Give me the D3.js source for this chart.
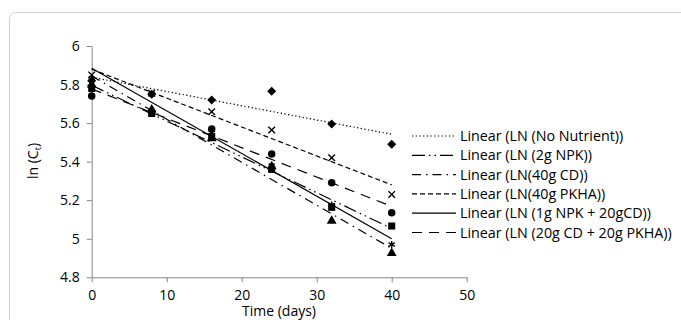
<!DOCTYPE html>
<html>
<head>
<meta charset="utf-8">
<script src="https://cdn.jsdelivr.net/npm/d3@7"></script>
<style>
body{margin:0;background:#fff}
text{font-family:"Open Sans",sans-serif;fill:#000}
</style>
</head>
<body>
<svg id="chart" width="681" height="320"></svg>
<script>
// days sampled
var days=[0,8,16,24,32,40]
// ln(C) readings per treatment
var noNutrient=[5.82,5.75,5.72,5.765,5.595,5.49]
var npk2g=[5.78,5.65,5.53,5.36,5.163,5.066]
var cd40g=[5.80,5.67,5.52,5.375,5.092,4.925]
var pkha40g=[5.85,5.755,5.659,5.564,5.42,5.23]
var npk1cd20=[5.83,5.75,5.55,5.38,5.175,4.97]
var cd20pkha20=[5.74,5.66,5.57,5.44,5.29,5.135]
var names=['Linear (LN (No Nutrient))','Linear (LN (2g NPK))','Linear (LN(40g CD))','Linear (LN(40g PKHA))','Linear (LN (1g NPK + 20gCD))','Linear (LN (20g CD + 20g PKHA))']
var xTicks=[0,10,20,30,40,50]
var yTicks=[4.8,5,5.2,5.4,5.6,5.8,6]

var series=[
 {name:names[0],vals:noNutrient,sym:d3.symbolSquare,size:40,rot:45,dash:'1.3,2.4'},
 {name:names[1],vals:npk2g,sym:d3.symbolSquare,size:50,dash:'13,4,1.5,4,1.5,4'},
 {name:names[2],vals:cd40g,sym:d3.symbolTriangle,size:42,dash:'9,5,1.5,5'},
 {name:names[3],vals:pkha40g,sym:d3.symbolX,size:30,dash:'5,3',stroke:true},
 {name:names[4],vals:npk1cd20,sym:d3.symbolAsterisk,size:36,dash:null,stroke:true},
 {name:names[5],vals:cd20pkha20,sym:d3.symbolCircle,size:44,dash:'10,7'}
]

var svg=d3.select('#chart')
var x=d3.scaleLinear().domain([0,50]).range([91.7,466.7])
var y=d3.scaleLinear().domain([4.8,6]).range([277.3,46])

// outer chart border
svg.append('rect').attr('x',9.5).attr('y',12.5).attr('width',700).attr('height',340)
 .attr('rx',6).attr('fill','none').attr('stroke','#d0d0d0')

var ax='#868686'
var gx=svg.append('g').attr('transform','translate(0,'+y(4.8)+')')
 .call(d3.axisBottom(x).tickValues(xTicks).tickSize(5).tickSizeOuter(0).tickPadding(8))
var gy=svg.append('g').attr('transform','translate('+x(0)+',0)')
 .call(d3.axisLeft(y).tickValues(yTicks).tickSize(5).tickSizeOuter(0).tickPadding(7).tickFormat(d3.format('')))
;[gx,gy].forEach(g=>{
 g.select('.domain').attr('stroke',ax)
 g.selectAll('.tick line').attr('stroke',ax)
 g.selectAll('.tick text').style('font-size','14px').attr('fill','#000')
})

svg.append('text').attr('x',279).attr('y',316).attr('text-anchor','middle')
 .style('font-size','14px').text('Time (days)')
var yl=svg.append('text').attr('transform','translate(38,161) rotate(-90)')
 .attr('text-anchor','middle').style('font-size','14px')
yl.append('tspan').text('ln (C')
yl.append('tspan').text('t').style('font-size','9px').attr('dy',3)
yl.append('tspan').text(')').attr('dy',-3)

// least squares trendline per series
function fit(v){
 var mx=d3.mean(days),my=d3.mean(v)
 var b=d3.sum(days,(d,i)=>(d-mx)*(v[i]-my))/d3.sum(days,d=>(d-mx)*(d-mx))
 return [my-b*mx,b]
}
var line=d3.line().x(d=>x(d[0])).y(d=>y(d[1]))

series.forEach(s=>{
 var f=fit(s.vals)
 var t0=d3.min(days),t1=d3.max(days)
 svg.append('path').attr('d',line([[t0,f[0]+f[1]*t0],[t1,f[0]+f[1]*t1]]))
  .attr('fill','none').attr('stroke','#000').attr('stroke-width',1.2)
  .attr('stroke-dasharray',s.dash)
})
series.forEach(s=>{
 svg.append('g').selectAll('path').data(s.vals).enter().append('path')
  .attr('transform',(d,i)=>'translate('+x(days[i])+','+y(d)+') rotate('+(s.rot||0)+')')
  .attr('d',d3.symbol().type(s.sym).size(s.size))
  .attr('fill',s.stroke?'none':'#000')
  .attr('stroke',s.stroke?'#000':'none').attr('stroke-width',1.4)
})

// legend
var lg=svg.append('g').selectAll('g').data(series).enter().append('g')
 .attr('transform',(d,i)=>'translate(0,'+(136+19.3*i)+')')
lg.append('line').attr('x1',412).attr('x2',456).attr('y1',0).attr('y2',0)
 .attr('stroke','#000').attr('stroke-width',1.2).attr('stroke-dasharray',d=>d.dash)
lg.append('text').attr('x',460).attr('y',0).attr('dy','0.35em')
 .style('font-size','14.3px').text(d=>d.name)
</script>
</body>
</html>
